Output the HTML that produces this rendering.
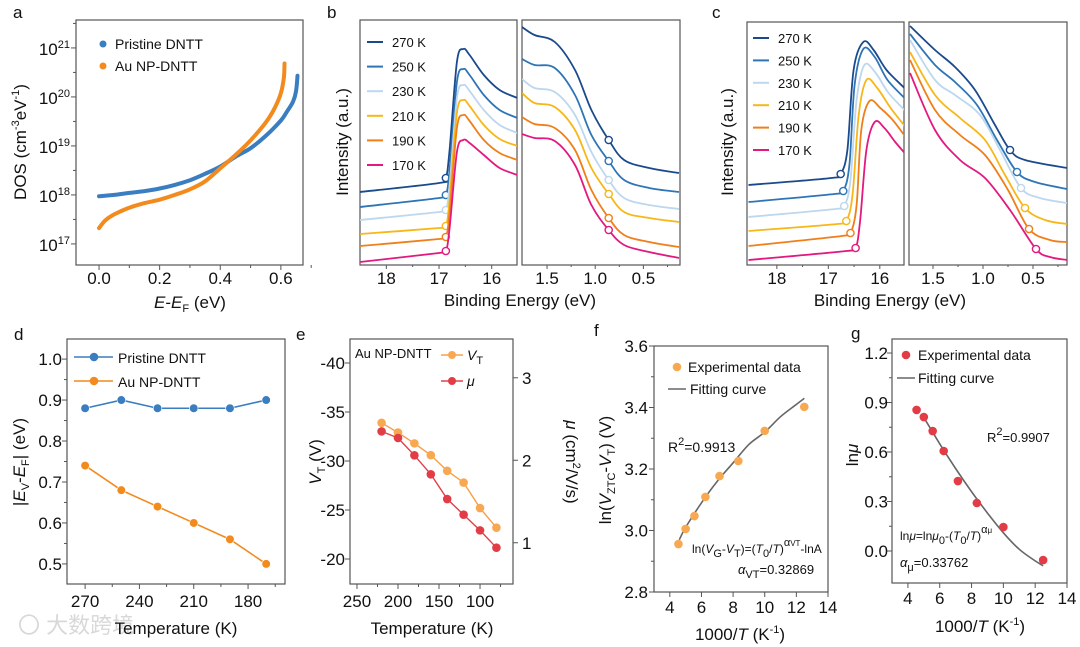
<!DOCTYPE html>
<html><head><meta charset="utf-8">
<style>
html,body{margin:0;padding:0;background:#fff;}
svg{display:block;font-family:"Liberation Sans","Noto Sans CJK SC",sans-serif;}
</style></head>
<body>
<svg id="fig" width="1080" height="647" viewBox="0 0 1080 647" xmlns="http://www.w3.org/2000/svg">
<defs>
<clipPath id="cbl"><rect x="360" y="20" width="157" height="245"/></clipPath>
<clipPath id="cbr"><rect x="522" y="20" width="158" height="245"/></clipPath>
<clipPath id="ccl"><rect x="747" y="22" width="157" height="244"/></clipPath>
<clipPath id="ccr"><rect x="909" y="22" width="158" height="244"/></clipPath>
</defs>
<text x="18" y="633" font-size="22" fill="#d8d8d8">〇 大数跨境</text>
</svg>
<script>
// ---------- data ----------
const aPriX=[0,0.05,0.1,0.15,0.2,0.25,0.3,0.35,0.4,0.45,0.5,0.55,0.6,0.62,0.64,0.65,0.655];
const aPriY=[9.4e17,1.0e18,1.1e18,1.2e18,1.35e18,1.6e18,2.0e18,2.7e18,3.8e18,6e18,9e18,1.6e19,3.3e19,5e19,8e19,1.3e20,2.7e20];
const aAuX=[0,0.02,0.05,0.1,0.15,0.2,0.25,0.3,0.35,0.4,0.45,0.5,0.55,0.58,0.6,0.61,0.612];
const aAuY=[2.1e17,3e17,4e17,5.5e17,6.8e17,8e17,1e18,1.3e18,1.9e18,3.5e18,6.5e18,1.3e19,3e19,6e19,1.2e20,2.5e20,4.8e20];

const temps=["270 K","250 K","230 K","210 K","190 K","170 K"];
const tColors=["#1b4a8c","#2e75b6","#bdd7ee","#f7b718","#f07f1a","#e3197f"];

const bLeftE=[18.5,17.0,16.87,16.80,16.66,16.54,16.42,16.15,15.85,15.51];
const bLeftI=[
[73,82,87,115,203,216,210,190,175,167],
[58,67,70,95,183,196,190,170,155,147],
[45,53,55,80,167,180,174,155,140,132],
[31,37,39,65,152,165,159,140,126,119],
[19,26,28,53,137,150,144,125,112,105],
[3,12,14,37,113,125,122,110,97,90]];
const bRightE=[1.76,1.63,1.42,1.21,1.04,0.86,0.70,0.44,0.13];
const bRightI=[
[238,230,223,195,155,125,105,97,92],
[206,200,197,170,130,104,85,77,73],
[186,177,173,150,113,85,67,60,56],
[172,162,158,135,97,71,53,47,43],
[148,141,137,115,75,47,30,23,18],
[131,127,124,100,60,35,20,13,7]];

const cLeftE=[
[18.55,16.94,16.76,16.63,16.51,16.32,16.12,15.87,15.5],
[18.55,16.88,16.71,16.59,16.49,16.32,16.10,15.85,15.5],
[18.55,16.86,16.69,16.57,16.45,16.30,16.08,15.83,15.5],
[18.55,16.82,16.65,16.53,16.41,16.26,16.05,15.79,15.5],
[18.55,16.74,16.57,16.45,16.36,16.20,15.99,15.75,15.5],
[18.55,16.65,16.47,16.38,16.26,16.10,15.91,15.70,15.5]];
const cLeftI=[
[80,87,91,115,195,223,215,195,176],
[63,71,74,100,180,216,208,185,166],
[48,56,59,85,165,200,192,172,154],
[34,41,44,70,150,185,177,157,138],
[19,29,32,60,135,164,157,145,128],
[5,14,17,45,115,143,137,123,111]];
const cRightE=[
[1.73,1.48,1.28,1.08,0.88,0.73,0.58,0.16],
[1.73,1.48,1.28,1.06,0.86,0.66,0.48,0.16],
[1.73,1.48,1.28,1.03,0.83,0.62,0.43,0.16],
[1.73,1.48,1.23,0.98,0.78,0.58,0.38,0.16],
[1.73,1.48,1.23,0.98,0.75,0.54,0.33,0.16],
[1.73,1.48,1.23,0.98,0.73,0.47,0.33,0.16]];
const cRightI=[
[239,215,198,175,140,115,105,97],
[231,200,183,160,125,93,83,76],
[225,185,170,150,115,77,67,62],
[213,170,147,125,90,57,45,41],
[205,155,130,110,75,36,25,23],
[192,135,105,87,55,16,8,5]];

const dTemps=[270,250,230,210,190,170];
const dPristine=[0.88,0.90,0.88,0.88,0.88,0.90];
const dAu=[0.74,0.68,0.64,0.60,0.56,0.50];

const eTemps=[220,200,180,160,140,120,100,80];
const eVT=[-33.9,-32.9,-31.8,-30.6,-29.0,-27.8,-25.2,-23.2];
const eMu=[2.35,2.27,2.06,1.83,1.53,1.34,1.15,0.94];

const fX=[4.545,5,5.556,6.25,7.143,8.333,10,12.5];
const fY=[2.956,3.005,3.047,3.109,3.177,3.226,3.324,3.402];
const fFitX=[4.6,5,6,7,8,9,10,11,12,12.5];
const fFitY=[2.97,3.01,3.09,3.16,3.22,3.28,3.32,3.37,3.41,3.43];

const gX=[4.545,5,5.556,6.25,7.143,8.333,10,12.5];
const gY=[0.855,0.812,0.727,0.606,0.424,0.291,0.145,-0.055];
const gFitX=[5,6,7,8,9,10,11,12,12.5];
const gFitY=[0.81,0.65,0.50,0.36,0.23,0.11,0.01,-0.06,-0.09];

// ---------- helpers ----------
const NS="http://www.w3.org/2000/svg";
const svg=document.getElementById('fig');
function mk(tag,attrs,name,parent){
  const e=document.createElementNS(NS,tag);
  for(const k in attrs) e.setAttribute(k,attrs[k]);
  
  
  (parent||svg).appendChild(e);
  return e;
}
function txt(x,y,html,size,name,opts){
  opts=opts||{};
  const a={x:x,y:y,'font-size':size,fill:opts.fill||'#111'};
  if(opts.anchor) a['text-anchor']=opts.anchor;
  if(opts.rot!==undefined) a.transform='rotate('+opts.rot+' '+x+' '+y+')';
  const t=mk('text',a,name,opts.parent);
  t.innerHTML=html;
  return t;
}
function sc(d0,d1,r0,r1){return v=>r0+(v-d0)*(r1-r0)/(d1-d0);}
function smooth(pts){
  let d='M'+pts[0][0].toFixed(1)+','+pts[0][1].toFixed(1);
  for(let i=0;i<pts.length-1;i++){
    const p0=pts[Math.max(i-1,0)],p1=pts[i],p2=pts[i+1],p3=pts[Math.min(i+2,pts.length-1)];
    const c1=[p1[0]+(p2[0]-p0[0])/6,p1[1]+(p2[1]-p0[1])/6];
    const c2=[p2[0]-(p3[0]-p1[0])/6,p2[1]-(p3[1]-p1[1])/6];
    d+=' C'+c1[0].toFixed(1)+','+c1[1].toFixed(1)+' '+c2[0].toFixed(1)+','+c2[1].toFixed(1)+' '+p2[0].toFixed(1)+','+p2[1].toFixed(1);
  }
  return d;
}
function frame(x0,y0,x1,y1,name){
  mk('rect',{x:x0,y:y0,width:x1-x0,height:y1-y0,fill:'none',stroke:'#555','stroke-width':1.2},name);
}
function xticks(vals,xs,yb,len,name){
  vals.forEach(v=>{mk('line',{x1:xs(v),x2:xs(v),y1:yb,y2:yb+len,stroke:'#555','stroke-width':1},name);});
}
function yticks(vals,ys,xl,len,name){
  vals.forEach(v=>{mk('line',{x1:xl,x2:xl-len,y1:ys(v),y2:ys(v),stroke:'#555','stroke-width':1},name);});
}
const SUB=(s)=>'<tspan font-size="11" baseline-shift="-4">'+s+'</tspan>';
const SUP=(s)=>'<tspan font-size="11" baseline-shift="7">'+s+'</tspan>';

// ---------- panel labels ----------
[['a',13,18],['b',327,18],['c',712,18],['d',14,340],['e',296,340],['f',594,336],['g',851,339]].forEach(p=>{
  txt(p[1],p[2],p[0],17,'panel-label-'+p[0]);
});

// ---------- panel a ----------
(function(){
  const xa=sc(-0.076,0.673,76,303);
  const la=sc(16.57,21.57,265,20);
  const ya=v=>la(Math.log10(v));
  frame(76,20,303,265,'panel-a-frame');
  xticks([0,0.2,0.4,0.6],xa,265,5,'x-tick-a');
  xticks([0.1,0.3,0.5,0.7],xa,265,3,'x-minor-tick-a');
  [0,0.2,0.4,0.6].forEach(v=>txt(xa(v),284,v.toFixed(1),17,'x-tick-label-a',{anchor:'middle'}));
  [17,18,19,20,21].forEach(p=>{
    mk('line',{x1:76,x2:71,y1:la(p),y2:la(p),stroke:'#555'},'y-tick-a');
    txt(70,la(p)+7,'10'+SUP(p),17,'y-tick-label-a',{anchor:'end'});
  });
  [17.5,18.5,19.5,20.5,21.5].forEach(p=>mk('line',{x1:76,x2:73,y1:la(p),y2:la(p),stroke:'#555'},'y-minor-tick-a'));
  txt(190,308,'<tspan font-style="italic">E</tspan>-<tspan font-style="italic">E</tspan>'+SUB('F')+' (eV)',17,'x-axis-title-a',{anchor:'middle'});
  txt(26,142,'DOS (cm'+SUP('-3')+'eV'+SUP('-1')+')',17,'y-axis-title-a',{anchor:'middle',rot:-90});
  const pPri=aPriX.map((x,i)=>[xa(x),ya(aPriY[i])]);
  const pAu=aAuX.map((x,i)=>[xa(x),ya(aAuY[i])]);
  mk('path',{d:smooth(pPri),fill:'none',stroke:'#3a7dc0','stroke-width':4,'stroke-linecap':'round'},'series-pristine-dntt');
  mk('path',{d:smooth(pAu),fill:'none',stroke:'#f28a1e','stroke-width':4,'stroke-linecap':'round'},'series-au-np-dntt');
  mk('circle',{cx:103,cy:44,r:3.5,fill:'#3a7dc0'},'legend-marker-pristine');
  txt(115,49,'Pristine DNTT',14,'legend-label-pristine');
  mk('circle',{cx:103,cy:66,r:3.5,fill:'#f28a1e'},'legend-marker-au');
  txt(115,71,'Au NP-DNTT',14,'legend-label-au');
})();

// ---------- spectra panels b & c ----------
function spectra(opt){
  const xl=sc(opt.lE[0],opt.lE[1],opt.lx0,opt.lx1);
  const xr=sc(opt.rE[0],opt.rE[1],opt.rx0,opt.rx1);
  const yy=sc(0,opt.yb-opt.yt,opt.yb,opt.yt);
  frame(opt.lx0,opt.yt,opt.lx1,opt.yb,'panel-'+opt.id+'-left-frame');
  frame(opt.rx0,opt.yt,opt.rx1,opt.yb,'panel-'+opt.id+'-right-frame');
  xticks([18,17,16],xl,opt.yb,4,'x-tick-'+opt.id);
  xticks([17.5,16.5],xl,opt.yb,2,'x-minor-tick-'+opt.id);
  xticks([1.5,1.0,0.5],xr,opt.yb,4,'x-tick-'+opt.id);
  xticks([1.25,0.75,0.25],xr,opt.yb,2,'x-minor-tick-'+opt.id);
  [18,17,16].forEach(v=>txt(xl(v),284,String(v),17,'x-tick-label-'+opt.id,{anchor:'middle'}));
  [1.5,1.0,0.5].forEach(v=>txt(xr(v),284,v.toFixed(1),17,'x-tick-label-'+opt.id,{anchor:'middle'}));
  txt(opt.titleX,306,'Binding Energy (eV)',17,'x-axis-title-'+opt.id,{anchor:'middle'});
  txt(opt.ylabX,142,'Intensity (a.u.)',17,'y-axis-title-'+opt.id,{anchor:'middle',rot:-90});
  const gl=mk('g',{'clip-path':'url(#'+opt.clipL+')'},'panel-'+opt.id+'-left-plot');
  const gr=mk('g',{'clip-path':'url(#'+opt.clipR+')'},'panel-'+opt.id+'-right-plot');
  for(let k=0;k<6;k++){
    const LE=Array.isArray(opt.LE[0])?opt.LE[k]:opt.LE;
    const RE=Array.isArray(opt.RE[0])?opt.RE[k]:opt.RE;
    const pl=LE.map((e,i)=>[xl(e),yy(opt.LI[k][i])]);
    const pr=RE.map((e,i)=>[xr(e),yy(opt.RI[k][i])]);
    mk('path',{d:smooth(pl),fill:'none',stroke:tColors[k],'stroke-width':1.8},'spectrum-left-'+temps[k].replace(' ','').toLowerCase(),gl);
    mk('path',{d:smooth(pr),fill:'none',stroke:tColors[k],'stroke-width':1.8},'spectrum-right-'+temps[k].replace(' ','').toLowerCase(),gr);
    mk('circle',{cx:pl[opt.cl][0],cy:pl[opt.cl][1],r:3.6,fill:'#fff',stroke:tColors[k],'stroke-width':1.4},'onset-marker-left',gl);
    mk('circle',{cx:pr[opt.cr][0],cy:pr[opt.cr][1],r:3.6,fill:'#fff',stroke:tColors[k],'stroke-width':1.4},'onset-marker-right',gr);
    const ly=opt.legY0+opt.legDy*k;
    mk('line',{x1:opt.legX,x2:opt.legX+16,y1:ly,y2:ly,stroke:tColors[k],'stroke-width':2},'legend-line-'+temps[k].replace(' ','').toLowerCase());
    txt(opt.legX+25,ly+5,temps[k],13,'legend-label-'+temps[k].replace(' ','').toLowerCase());
  }
}
spectra({id:'b',lE:[18.5,15.52],lx0:360,lx1:517,rE:[1.76,0.12],rx0:522,rx1:680,yt:20,yb:265,
  LE:bLeftE,LI:bLeftI,RE:bRightE,RI:bRightI,cl:2,cr:5,clipL:'cbl',clipR:'cbr',
  titleX:520,ylabX:348,legX:367,legY0:42,legDy:24.6});
spectra({id:'c',lE:[18.58,15.53],lx0:747,lx1:904,rE:[1.74,0.16],rx0:909,rx1:1067,yt:22,yb:265,
  LE:cLeftE,LI:cLeftI,RE:cRightE,RI:cRightI,cl:2,cr:5,clipL:'ccl',clipR:'ccr',
  titleX:890,ylabX:733,legX:753,legY0:38,legDy:22.4});

// ---------- panel d ----------
(function(){
  const xd=sc(280,159.6,67,285);
  const yd=sc(0.451,1.049,584,339);
  frame(67,339,285,584,'panel-d-frame');
  xticks([270,240,210,180],xd,584,5,'x-tick-d');
  xticks([255,225,195,165],xd,584,3,'x-minor-tick-d');
  yticks([0.5,0.6,0.7,0.8,0.9,1.0],yd,67,5,'y-tick-d');
  yticks([0.55,0.65,0.75,0.85,0.95],yd,67,3,'y-minor-tick-d');
  [270,240,210,180].forEach(v=>txt(xd(v),607,String(v),17,'x-tick-label-d',{anchor:'middle'}));
  [0.5,0.6,0.7,0.8,0.9,1.0].forEach(v=>txt(62,yd(v)+6,v.toFixed(1),17,'y-tick-label-d',{anchor:'end'}));
  txt(176,634,'Temperature (K)',17,'x-axis-title-d',{anchor:'middle'});
  txt(25,462,'|<tspan font-style="italic">E</tspan>'+SUB('V')+'-<tspan font-style="italic">E</tspan>'+SUB('F')+'| (eV)',17,'y-axis-title-d',{anchor:'middle',rot:-90});
  const series=[[dPristine,'#3a7dc0','pristine'],[dAu,'#f28a1e','au-np']];
  series.forEach(s=>{
    const pts=dTemps.map((t,i)=>xd(t)+','+yd(s[0][i])).join(' ');
    mk('polyline',{points:pts,fill:'none',stroke:s[1],'stroke-width':1.6},'line-'+s[2]);
    dTemps.forEach((t,i)=>mk('circle',{cx:xd(t),cy:yd(s[0][i]),r:4.3,fill:s[1],stroke:'#fff','stroke-width':0.6},'point-'+s[2]));
  });
  mk('line',{x1:74,x2:113,y1:357,y2:357,stroke:'#3a7dc0','stroke-width':1.6},'legend-line-pristine-d');
  mk('circle',{cx:94,cy:357,r:4.3,fill:'#3a7dc0'},'legend-marker-pristine-d');
  txt(118,363,'Pristine DNTT',14,'legend-label-pristine-d');
  mk('line',{x1:74,x2:113,y1:381,y2:381,stroke:'#f28a1e','stroke-width':1.6},'legend-line-au-d');
  mk('circle',{cx:94,cy:381,r:4.3,fill:'#f28a1e'},'legend-marker-au-d');
  txt(118,387,'Au NP-DNTT',14,'legend-label-au-d');
})();

// ---------- panel e ----------
(function(){
  const xe=sc(258.5,59.8,350,513);
  const ye=sc(-42.45,-17.45,339,584);
  const ym=sc(3.47,0.50,339,584);
  frame(350,339,513,584,'panel-e-frame');
  xticks([250,200,150,100],xe,584,5,'x-tick-e');
  xticks([225,175,125,75],xe,584,3,'x-minor-tick-e');
  yticks([-40,-35,-30,-25,-20],ye,350,5,'y-tick-e');
  [1,2,3].forEach(v=>mk('line',{x1:513,x2:518,y1:ym(v),y2:ym(v),stroke:'#555'},'y-right-tick-e'));
  [250,200,150,100].forEach(v=>txt(xe(v),607,String(v),17,'x-tick-label-e',{anchor:'middle'}));
  [-40,-35,-30,-25,-20].forEach(v=>txt(345,ye(v)+6,String(v),17,'y-tick-label-e',{anchor:'end'}));
  [1,2,3].forEach(v=>txt(522,ym(v)+6,String(v),17,'y-right-tick-label-e'));
  txt(432,634,'Temperature (K)',17,'x-axis-title-e',{anchor:'middle'});
  txt(321,462,'<tspan font-style="italic">V</tspan>'+SUB('T')+' (V)',17,'y-axis-title-e',{anchor:'middle',rot:-90});
  txt(566,462,'<tspan font-style="italic">μ</tspan> (cm'+SUP('2')+'/V/s)',17,'y-right-axis-title-e',{anchor:'middle',rot:90});
  const vp=eTemps.map((t,i)=>xe(t)+','+ye(eVT[i])).join(' ');
  mk('polyline',{points:vp,fill:'none',stroke:'#f5a04a','stroke-width':1.4},'line-vt');
  eTemps.forEach((t,i)=>mk('circle',{cx:xe(t),cy:ye(eVT[i]),r:4.3,fill:'#f8a850'},'point-vt'));
  const mp=eTemps.map((t,i)=>xe(t)+','+ym(eMu[i])).join(' ');
  mk('polyline',{points:mp,fill:'none',stroke:'#e0404a','stroke-width':1.4},'line-mu');
  eTemps.forEach((t,i)=>mk('circle',{cx:xe(t),cy:ym(eMu[i]),r:4.3,fill:'#e23c46'},'point-mu'));
  txt(355,358,'Au NP-DNTT',13,'annotation-au-np-dntt-e');
  mk('line',{x1:441,x2:463,y1:355,y2:355,stroke:'#f5a04a','stroke-width':1.4},'legend-line-vt');
  mk('circle',{cx:452,cy:355,r:4,fill:'#f8a850'},'legend-marker-vt');
  txt(467,360,'<tspan font-style="italic">V</tspan>'+SUB('T'),14,'legend-label-vt');
  mk('line',{x1:441,x2:463,y1:381,y2:381,stroke:'#e0404a','stroke-width':1.4},'legend-line-mu');
  mk('circle',{cx:452,cy:381,r:4,fill:'#e23c46'},'legend-marker-mu');
  txt(467,386,'<tspan font-style="italic">μ</tspan>',14,'legend-label-mu');
})();

// ---------- panel f ----------
(function(){
  const xf=sc(3,14,654,828);
  const yf=sc(2.8,3.6,592,346);
  frame(654,346,828,592,'panel-f-frame');
  xticks([4,6,8,10,12,14],xf,592,5,'x-tick-f');
  yticks([2.8,3.0,3.2,3.4,3.6],yf,654,5,'y-tick-f');
  yticks([2.9,3.1,3.3,3.5],yf,654,3,'y-minor-tick-f');
  [4,6,8,10,12,14].forEach(v=>txt(xf(v),613,String(v),17,'x-tick-label-f',{anchor:'middle'}));
  [2.8,3.0,3.2,3.4,3.6].forEach(v=>txt(648,yf(v)+6,v.toFixed(1),17,'y-tick-label-f',{anchor:'end'}));
  txt(740,640,'1000/<tspan font-style="italic">T</tspan> (K'+SUP('-1')+')',17,'x-axis-title-f',{anchor:'middle'});
  txt(611,470,'ln(<tspan font-style="italic">V</tspan>'+SUB('ZTC')+'-<tspan font-style="italic">V</tspan>'+SUB('T')+') (V)',17,'y-axis-title-f',{anchor:'middle',rot:-90});
  const fp=fFitX.map((x,i)=>[xf(x),yf(fFitY[i])]);
  mk('path',{d:smooth(fp),fill:'none',stroke:'#666','stroke-width':1.6},'fitting-curve-f');
  fX.forEach((x,i)=>mk('circle',{cx:xf(x),cy:yf(fY[i]),r:4.3,fill:'#f8a850'},'data-point-f'));
  mk('circle',{cx:677,cy:367,r:4.3,fill:'#f8a850'},'legend-marker-experimental-f');
  txt(688,372,'Experimental data',14,'legend-label-experimental-f');
  mk('line',{x1:668,x2:686,y1:389,y2:389,stroke:'#666','stroke-width':1.6},'legend-line-fitting-f');
  txt(690,394,'Fitting curve',14,'legend-label-fitting-f');
  txt(668,452,'R'+SUP('2')+'=0.9913',14,'r-squared-f');
  txt(692,553,'ln(<tspan font-style="italic">V</tspan>'+SUB('G')+'-<tspan font-style="italic">V</tspan>'+SUB('T')+')=(<tspan font-style="italic">T</tspan>'+SUB('0')+'/<tspan font-style="italic">T</tspan>)'+SUP('α<tspan font-size="8">VT</tspan>')+'-lnA',12,'equation-f');
  txt(738,574,'<tspan font-style="italic">α</tspan>'+SUB('VT')+'=0.32869',13,'alpha-f');
})();

// ---------- panel g ----------
(function(){
  const xg=sc(3,14,892,1067);
  const yg=sc(-0.194,1.285,583,339);
  frame(892,339,1067,583,'panel-g-frame');
  xticks([4,6,8,10,12,14],xg,583,5,'x-tick-g');
  yticks([0,0.3,0.6,0.9,1.2],yg,892,5,'y-tick-g');
  yticks([0.15,0.45,0.75,1.05],yg,892,3,'y-minor-tick-g');
  [4,6,8,10,12,14].forEach(v=>txt(xg(v),604,String(v),17,'x-tick-label-g',{anchor:'middle'}));
  [0,0.3,0.6,0.9,1.2].forEach(v=>txt(888,yg(v)+6,v.toFixed(1),17,'y-tick-label-g',{anchor:'end'}));
  txt(980,632,'1000/<tspan font-style="italic">T</tspan> (K'+SUP('-1')+')',17,'x-axis-title-g',{anchor:'middle'});
  txt(858,455,'ln<tspan font-style="italic">μ</tspan>',17,'y-axis-title-g',{anchor:'middle',rot:-90});
  const gp=gFitX.map((x,i)=>[xg(x),yg(gFitY[i])]);
  mk('path',{d:smooth(gp),fill:'none',stroke:'#666','stroke-width':1.6},'fitting-curve-g');
  gX.forEach((x,i)=>mk('circle',{cx:xg(x),cy:yg(gY[i]),r:4.3,fill:'#e23c46'},'data-point-g'));
  mk('circle',{cx:906,cy:355,r:4.3,fill:'#e23c46'},'legend-marker-experimental-g');
  txt(918,360,'Experimental data',14,'legend-label-experimental-g');
  mk('line',{x1:897,x2:915,y1:378,y2:378,stroke:'#666','stroke-width':1.6},'legend-line-fitting-g');
  txt(918,383,'Fitting curve',14,'legend-label-fitting-g');
  txt(987,442,'R'+SUP('2')+'=0.9907',13,'r-squared-g');
  txt(900,540,'ln<tspan font-style="italic">μ</tspan>=ln<tspan font-style="italic">μ</tspan>'+SUB('0')+'-(<tspan font-style="italic">T</tspan>'+SUB('0')+'/<tspan font-style="italic">T</tspan>)'+SUP('α<tspan font-size="8">μ</tspan>'),12,'equation-g');
  txt(900,567,'<tspan font-style="italic">α</tspan>'+SUB('μ')+'=0.33762',13,'alpha-g');
})();
</script>
</body></html>
